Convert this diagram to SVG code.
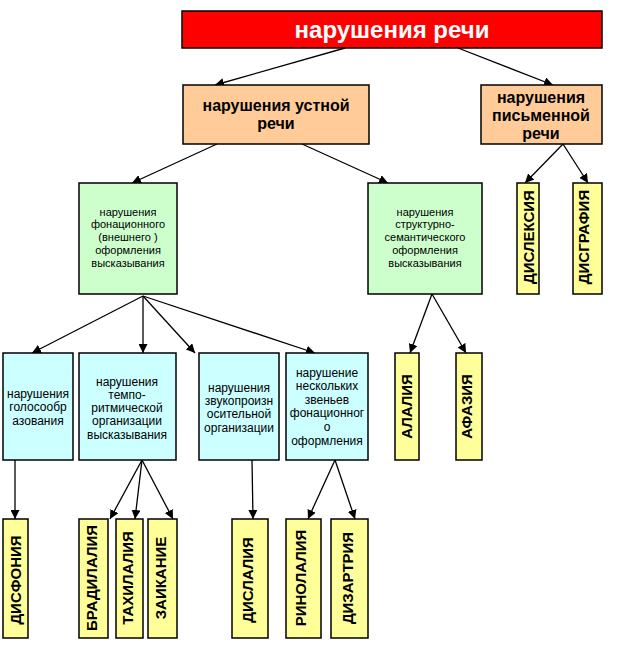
<svg xmlns="http://www.w3.org/2000/svg" width="618" height="650" viewBox="0 0 618 650">
<defs>
<marker id="ah" viewBox="0 0 10 10" refX="10" refY="5" markerWidth="9" markerHeight="9" markerUnits="userSpaceOnUse" orient="auto">
<path d="M0,0 L10,5 L0,10 z" fill="#000"/>
</marker>
<style>
.b{stroke:#000;stroke-width:1.5}
.red{fill:#FF0000}
.or{fill:#FFCC99}
.gr{fill:#CCFFCC}
.bl{fill:#CCFFFF}
.ye{fill:#FFFF99}
.t{font-family:"Liberation Sans",Arial,sans-serif;text-anchor:middle}
.title{font-size:24px;font-weight:bold;fill:#fff}
.ob{font-size:16px;font-weight:bold;fill:#000}
.sm{font-size:11px;fill:#000}
.md{font-size:12px;fill:#000}
.v{font-size:15px;font-weight:bold;fill:#000}
.c{stroke:#000;stroke-width:1.3;fill:none;marker-end:url(#ah)}
</style>
</defs>
<rect width="618" height="650" fill="#fff"/>
<g id="connectors">
<line class="c" x1="345" y1="48" x2="215" y2="85"/>
<line class="c" x1="458" y1="48" x2="553" y2="85"/>
<line class="c" x1="217" y1="144" x2="132" y2="183"/>
<line class="c" x1="302" y1="144" x2="388" y2="183"/>
<line class="c" x1="563" y1="144" x2="525" y2="183"/>
<line class="c" x1="563" y1="144" x2="588" y2="183"/>
<line class="c" x1="143" y1="296" x2="32" y2="353"/>
<line class="c" x1="143" y1="296" x2="143" y2="353"/>
<line class="c" x1="143" y1="296" x2="195" y2="353"/>
<line class="c" x1="143" y1="296" x2="315" y2="353"/>
<line class="c" x1="432" y1="294" x2="410" y2="353"/>
<line class="c" x1="432" y1="294" x2="466" y2="353"/>
<line class="c" x1="15" y1="460" x2="15" y2="519"/>
<line class="c" x1="142" y1="460" x2="110" y2="519"/>
<line class="c" x1="142" y1="460" x2="135" y2="519"/>
<line class="c" x1="142" y1="460" x2="173" y2="519"/>
<line class="c" x1="252" y1="460" x2="253" y2="519"/>
<line class="c" x1="335" y1="460" x2="308" y2="519"/>
<line class="c" x1="335" y1="460" x2="355" y2="519"/>
</g>
<g id="n_root">
<rect class="b red" x="182" y="11" width="420" height="37"/>
<text class="t title" x="392" y="38">нарушения речи</text>
</g>
<g id="n_oral">
<rect class="b or" x="183" y="85" width="186" height="59"/>
<text class="t ob" x="276" y="110.5">нарушения устной</text>
<text class="t ob" x="276" y="128.5">речи</text>
</g>
<g id="n_written">
<rect class="b or" x="481" y="85" width="121" height="59"/>
<text class="t ob" x="541" y="102.5">нарушения</text>
<text class="t ob" x="541" y="120.5">письменной</text>
<text class="t ob" x="541" y="138.5">речи</text>
</g>
<g id="n_phon">
<rect class="b gr" x="79" y="183" width="98" height="111"/>
<text class="t sm" x="128" y="216">нарушения</text>
<text class="t sm" x="128" y="228">фонационного</text>
<text class="t sm" x="128" y="241">(внешнего  )</text>
<text class="t sm" x="128" y="254">оформления</text>
<text class="t sm" x="128" y="267">высказывания</text>
</g>
<g id="n_struct">
<rect class="b gr" x="368" y="183" width="114" height="111"/>
<text class="t sm" x="425" y="216">нарушения</text>
<text class="t sm" x="425" y="228">структурно-</text>
<text class="t sm" x="425" y="241">семантического</text>
<text class="t sm" x="425" y="254">оформления</text>
<text class="t sm" x="425" y="267">высказывания</text>
</g>
<g id="n_voice">
<rect class="b bl" x="3" y="353" width="70" height="107"/>
<text class="t md" x="38" y="397.5">нарушения</text>
<text class="t md" x="38" y="411">голосообр</text>
<text class="t md" x="38" y="424.5">азования</text>
</g>
<g id="n_tempo">
<rect class="b bl" x="79" y="353" width="97" height="107"/>
<text class="t md" x="127" y="385.5">нарушения</text>
<text class="t md" x="127" y="398.5">темпо-</text>
<text class="t md" x="127" y="411.5">ритмической</text>
<text class="t md" x="127" y="424.5">организации</text>
<text class="t md" x="127" y="438.5">высказывания</text>
</g>
<g id="n_sound">
<rect class="b bl" x="199" y="353" width="80" height="107"/>
<text class="t md" x="239" y="391.5">нарушения</text>
<text class="t md" x="239" y="404.5">звукопроизн</text>
<text class="t md" x="239" y="417.5">осительной</text>
<text class="t md" x="239" y="431.5">организации</text>
</g>
<g id="n_several">
<rect class="b bl" x="286" y="353" width="82" height="107"/>
<text class="t md" x="327" y="376.5">нарушение</text>
<text class="t md" x="327" y="389.5">нескольких</text>
<text class="t md" x="327" y="403.5">звеньев</text>
<text class="t md" x="327" y="416.5">фонационног</text>
<text class="t md" x="327" y="430.5">о</text>
<text class="t md" x="327" y="444.5">оформления</text>
</g>
<g id="n_dyslexia">
<rect class="b ye" x="517" y="183" width="22" height="111"/>
<text class="t v" transform="translate(533.5,237) rotate(-90)">ДИСЛЕКСИЯ</text>
</g>
<g id="n_dysgraphia">
<rect class="b ye" x="573" y="183" width="29" height="111"/>
<text class="t v" transform="translate(589,237) rotate(-90)">ДИСГРАФИЯ</text>
</g>
<g id="n_alalia">
<rect class="b ye" x="395" y="353" width="24" height="107"/>
<text class="t v" transform="translate(412,406.5) rotate(-90)">АЛАЛИЯ</text>
</g>
<g id="n_aphasia">
<rect class="b ye" x="456" y="353" width="26" height="107"/>
<text class="t v" transform="translate(472,406.5) rotate(-90)">АФАЗИЯ</text>
</g>
<g id="n_dysphonia">
<rect class="b ye" x="3" y="519" width="25" height="119"/>
<text class="t v" transform="translate(20.5,580) rotate(-90)">ДИСФОНИЯ</text>
</g>
<g id="n_brady">
<rect class="b ye" x="79" y="519" width="29" height="119"/>
<text class="t v" transform="translate(97,578) rotate(-90)">БРАДИЛАЛИЯ</text>
</g>
<g id="n_tachy">
<rect class="b ye" x="116" y="519" width="27" height="119"/>
<text class="t v" transform="translate(133,578) rotate(-90)">ТАХИЛАЛИЯ</text>
</g>
<g id="n_stutter">
<rect class="b ye" x="148" y="519" width="29" height="119"/>
<text class="t v" transform="translate(166,578) rotate(-90)">ЗАИКАНИЕ</text>
</g>
<g id="n_dyslalia">
<rect class="b ye" x="232" y="519" width="36" height="119"/>
<text class="t v" transform="translate(253,580) rotate(-90)">ДИСЛАЛИЯ</text>
</g>
<g id="n_rhinolalia">
<rect class="b ye" x="286" y="519" width="35" height="119"/>
<text class="t v" transform="translate(306,578) rotate(-90)">РИНОЛАЛИЯ</text>
</g>
<g id="n_dysarthria">
<rect class="b ye" x="331" y="519" width="37" height="119"/>
<text class="t v" transform="translate(353,578) rotate(-90)">ДИЗАРТРИЯ</text>
</g>
</svg>
